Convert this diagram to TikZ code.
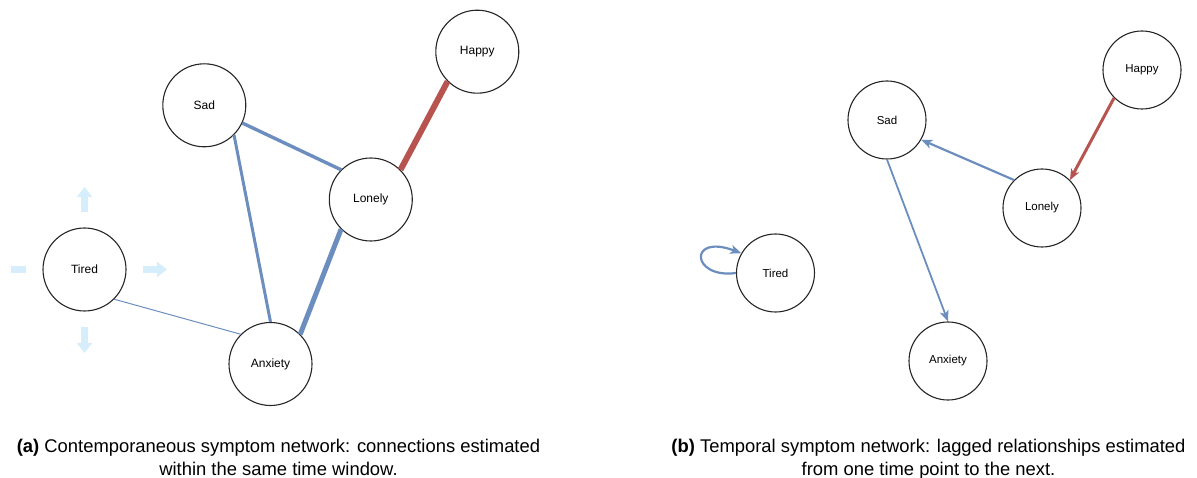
\documentclass[tikz,border=0pt]{standalone}
\usepackage{fontspec}
\setmainfont{Liberation Sans}
\usetikzlibrary{arrows.meta,calc}
\definecolor{edgeblue}{HTML}{6C8EBF}
\definecolor{edgered}{HTML}{B85450}
\definecolor{hoverblue}{RGB}{214,238,252}

\begin{document}
\begin{tikzpicture}[x=1pt,y=-1pt,
  sym/.style={circle, draw=black!85, line width=1.1pt, fill=white, inner sep=0pt},
  syma/.style={sym, minimum size=83pt, font=\fontsize{12}{14}\selectfont},
  symb/.style={sym, minimum size=78pt, font=\fontsize{11.5}{13}\selectfont},
  posedge/.style={draw=edgeblue},
  negedge/.style={draw=edgered},
  lagtip/.style={-{Stealth[length=11pt,width=9pt,inset=3pt]}},
  hoverbar/.style={draw=hoverblue, line width=6.5pt},
  hoverarrow/.style={hoverbar, -{Triangle[length=10pt,width=15pt]}},
  capline/.style={font=\fontsize{18.4}{23}\selectfont, anchor=base, inner sep=0pt}
]
\useasboundingbox (0,0) rectangle (1197,478);

% ---------- (a) contemporaneous network ----------
\node[syma] (ha) at (477.3,51.7)  {Happy};
\node[syma] (sa) at (204.3,105.3) {Sad};
\node[syma] (la) at (370.8,199.5) {Lonely};
\node[syma] (ta) at (84.5,269.5)  {Tired};
\node[syma] (aa) at (270.5,364)   {Anxiety};

\draw[negedge, line width=6pt]   (ha.-135) -- (la.45);
\draw[posedge, line width=3.4pt] (sa.-25)  -- (la.135);
\draw[posedge, line width=3pt]   (sa.-45)  -- (aa.90);
\draw[posedge, line width=5pt]   (la.-135) -- (aa.45);
\draw[posedge, line width=1pt]   (ta.-45)  -- (aa.135);

% move handles around Tired
\draw[hoverarrow] ($(ta)+(0,-57.5)$) -- ($(ta)+(0,-82.5)$);
\draw[hoverarrow] ($(ta)+(58.5,0)$)  -- ($(ta)+(82.5,0)$);
\draw[hoverarrow] ($(ta)+(0,57.5)$)  -- ($(ta)+(0,83.5)$);
\draw[hoverbar]   ($(ta)+(-73.5,0)$) -- ($(ta)+(-58.5,0)$);

% ---------- (b) temporal network ----------
\node[symb] (hb) at (1142,70)   {Happy};
\node[symb] (sb) at (887,120)   {Sad};
\node[symb] (lb) at (1042,208)  {Lonely};
\node[symb] (tb) at (775.5,273) {Tired};
\node[symb] (ab) at (948,361)   {Anxiety};

\draw[negedge, line width=3pt, lagtip]   (hb.-135) -- (lb.45);
\draw[posedge, line width=2.2pt, lagtip] (lb.135)  -- (sb.-30);
\draw[posedge, line width=1.8pt, lagtip] (sb.-90)  -- (ab.90);
\draw[posedge, line width=2.2pt, lagtip] (tb.west)
  .. controls ($(tb.west)+(-45,6)$) and ($(tb.west)+(-48,-40)$) .. (tb.150);

% ---------- captions ----------
\node[capline] (capa1) at (278.5,452) {\textbf{(a)} Contemporaneous symptom network: connections estimated};
\node[capline] (capa2) at (278.5,475) {within the same time window.};
\node[capline] (capb1) at (928.5,452) {\textbf{(b)} Temporal symptom network: lagged relationships estimated};
\node[capline] (capb2) at (928.5,475) {from one time point to the next.};
\end{tikzpicture}
\end{document}
